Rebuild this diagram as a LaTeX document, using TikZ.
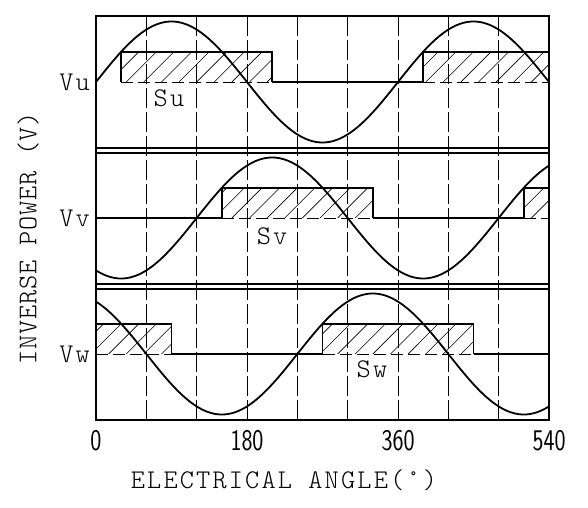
\documentclass[tikz,border=0pt]{standalone}
\usepackage{fontspec}
\usepackage{tikz}
\newfontfamily\achsenfont{lmmonolt10-regular.otf}[LetterSpace=8]
\newfontfamily\achsenfontschmal{lmmonolt10-regular.otf}[LetterSpace=3]

\tikzset{
  rahmen/.style={line width=1.4pt},
  trenner/.style={line width=1.1pt},
  gitter/.style={line width=0.8pt, dash pattern=on 20pt off 4pt},
  welle/.style={line width=1.8pt, domain=0:540, samples=181, smooth},
  nulllinie/.style={line width=1.5pt},
  schalt/.style={line width=1.6pt},
  schaltunten/.style={line width=0.8pt, dash pattern=on 12pt off 5pt},
  schraffur/.style={line width=0.6pt},
  beschriftung/.style={font=\achsenfont\fontsize{27}{27}\selectfont, inner sep=0pt},
  teilung/.style={font=\sffamily\fontsize{30}{30}\selectfont, xscale=0.78, inner sep=0pt},
}

\begin{document}
\begin{tikzpicture}[x=0.8389pt, y=1pt]
\useasboundingbox (-114.43,-87) rectangle (586.48,420);

% Rahmen und Trennlinien
\draw[rahmen] (0,0) rectangle (540,404);
\draw[trenner] (0,272) -- (540,272) (0,267) -- (540,267);
\draw[trenner] (0,136) -- (540,136) (0,131) -- (540,131);

% Gitterlinien alle 60 Grad
\foreach \w in {60,120,...,480}
  \draw[gitter] (\w,0) -- (\w,404);

% Schaltbereiche mit Schraffur
\foreach \a/\b/\y in {30/210/338, 390/540/338, 150/330/202, 510/540/202, 0/90/66, 270/450/66} {
  \begin{scope}
    \clip (\a,\y) rectangle (\b,\y+30);
    \foreach \c in {-69,-48,...,540}
      \draw[schraffur] (\c,\y) -- ++(35.76,30);
  \end{scope}
  \draw[schalt] (\a,\y) -- (\a,\y+30) -- (\b,\y+30) -- (\b,\y);
  \draw[schaltunten] (\a,\y) -- (\b,\y);
}

% Nulllinien
\draw[nulllinie] (210,338) -- (390,338);
\draw[nulllinie] (0,202) -- (150,202) (330,202) -- (510,202);
\draw[nulllinie] (90,66) -- (270,66) (450,66) -- (540,66);

% Spannungsverlaeufe
\draw[welle] plot (\x, {338+60.5*sin(\x)});
\draw[welle] plot (\x, {202+60.5*sin(\x-120)});
\draw[welle] plot (\x, {66+60.5*sin(\x+120)});

% Beschriftung der Phasen
\node[beschriftung, anchor=east] (vu) at (-7,338) {Vu};
\node[beschriftung, anchor=east] (vv) at (-7,202) {Vv};
\node[beschriftung, anchor=east] (vw) at (-7,66) {Vw};
\node[beschriftung] (su) at (87,322) {Su};
\node[beschriftung] (sv) at (210,184) {Sv};
\node[beschriftung] (sw) at (329,51) {Sw};

% Achsen
\foreach \w in {0,180,360,540}
  \node[teilung] (t\w) at (\w,-21) {\w};
\node[beschriftung] (xachse) at (224,-60) {ELECTRICAL ANGLE(°)};
\node[beschriftung, font=\achsenfontschmal\fontsize{27}{27}\selectfont, rotate=90] (yachse) at (-81,182) {INVERSE POWER (V)};

\end{tikzpicture}
\end{document}
